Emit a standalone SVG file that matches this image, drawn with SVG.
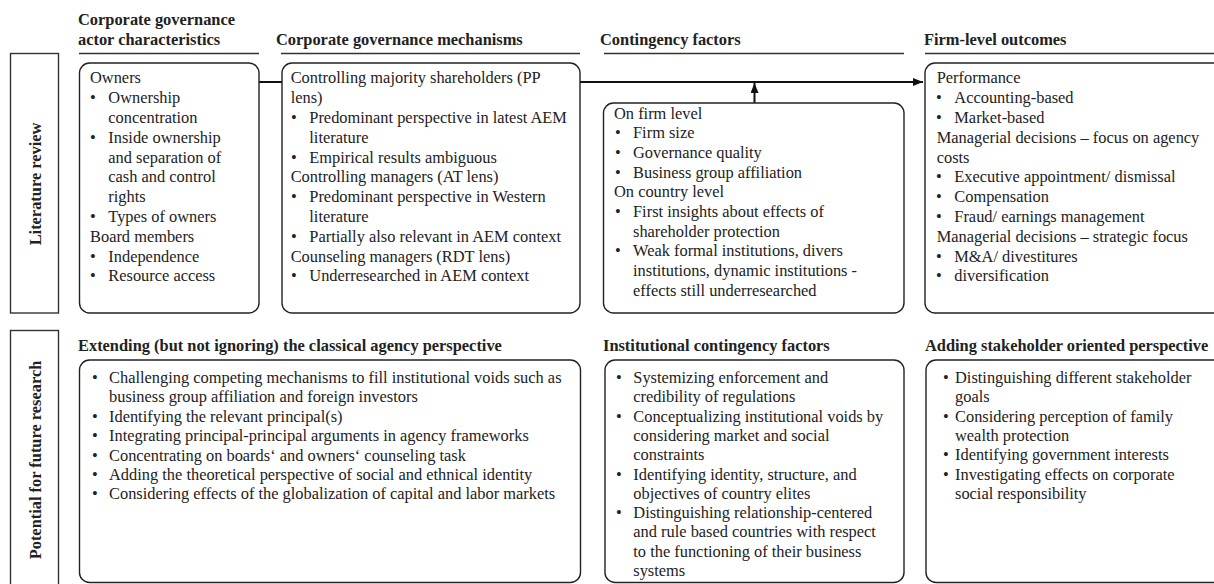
<svg xmlns="http://www.w3.org/2000/svg" width="1214" height="584" viewBox="0 0 1214 584">
<defs>
<style>
text{font-family:"Liberation Serif","Times New Roman",serif;fill:#222;font-size:16.4px}
.h{font-weight:bold}
.box{fill:none;stroke:#222;stroke-width:1.4}
.lbl{fill:none;stroke:#333;stroke-width:1.4}
.ul{stroke:#333;stroke-width:1.6}
.conn{stroke:#111;stroke-width:2;fill:none}
</style>
<marker id="ah" viewBox="0 0 10 8" refX="10" refY="4" markerWidth="5" markerHeight="4" orient="auto" markerUnits="strokeWidth">
<path d="M0,0 L10,4 L0,8 Z" fill="#111"/>
</marker>
</defs>
<rect width="1214" height="584" fill="#fff"/>

<g id="headers">
<text class="h" x="78" y="25">Corporate governance</text>
<text class="h" x="78" y="45">actor characteristics</text>
<text class="h" x="276" y="45">Corporate governance mechanisms</text>
<text class="h" x="600" y="45">Contingency factors</text>
<text class="h" x="924" y="45">Firm-level outcomes</text>
<line class="ul" x1="79" y1="53.5" x2="259" y2="53.5"/>
<line class="ul" x1="281" y1="53.5" x2="580" y2="53.5"/>
<line class="ul" x1="604" y1="53.5" x2="904" y2="53.5"/>
<line class="ul" x1="925" y1="53.5" x2="1214" y2="53.5"/>
<text class="h" x="78" y="351">Extending (but not ignoring) the classical agency perspective</text>
<text class="h" x="603" y="351">Institutional contingency factors</text>
<text class="h" x="925" y="351">Adding stakeholder oriented perspective</text>
</g>

<g id="label-literature">
<rect class="lbl" x="10.5" y="53.5" width="48" height="259.5"/>
<text class="h" transform="translate(41,184) rotate(-90)" text-anchor="middle">Literature review</text>
</g>
<g id="label-future">
<rect class="lbl" x="10.5" y="330.5" width="48" height="270"/>
<text class="h" transform="translate(41,460) rotate(-90)" text-anchor="middle">Potential for future research</text>
</g>

<g id="connectors">
<line class="conn" x1="259" y1="82" x2="282" y2="82"/>
<line class="conn" x1="580" y1="82" x2="923" y2="82" marker-end="url(#ah)"/>
<line class="conn" x1="754.5" y1="103" x2="754.5" y2="83" marker-end="url(#ah)"/>
</g>

<g id="node-actors">
<rect class="box" x="79.5" y="63" width="179.5" height="250" rx="10"/>
<text x="90" y="83.3">Owners</text>
<text x="90" y="103.1">•</text><text x="108.3" y="103.1">Ownership</text>
<text x="108.3" y="122.9">concentration</text>
<text x="90" y="142.7">•</text><text x="108.3" y="142.7">Inside ownership</text>
<text x="108.3" y="162.5">and separation of</text>
<text x="108.3" y="182.3">cash and control</text>
<text x="108.3" y="202.1">rights</text>
<text x="90" y="221.9">•</text><text x="108.3" y="221.9">Types of owners</text>
<text x="90" y="241.7">Board members</text>
<text x="90" y="261.5">•</text><text x="108.3" y="261.5">Independence</text>
<text x="90" y="281.3">•</text><text x="108.3" y="281.3">Resource access</text>
</g>

<g id="node-mechanisms">
<rect class="box" x="282" y="63" width="298" height="250" rx="10"/>
<text x="290.7" y="83.3">Controlling majority shareholders (PP</text>
<text x="290.7" y="103.1">lens)</text>
<text x="291" y="122.9">•</text><text x="309.3" y="122.9">Predominant perspective in latest AEM</text>
<text x="309.3" y="142.7">literature</text>
<text x="291" y="162.5">•</text><text x="309.3" y="162.5">Empirical results ambiguous</text>
<text x="290.7" y="182.3">Controlling managers (AT lens)</text>
<text x="291" y="202.1">•</text><text x="309.3" y="202.1">Predominant perspective in Western</text>
<text x="309.3" y="221.9">literature</text>
<text x="291" y="241.7">•</text><text x="309.3" y="241.7">Partially also relevant in AEM context</text>
<text x="290.7" y="261.5">Counseling managers (RDT lens)</text>
<text x="291" y="281.3">•</text><text x="309.3" y="281.3">Underresearched in AEM context</text>
</g>

<g id="node-contingency">
<rect class="box" x="603.5" y="103" width="300.5" height="210" rx="10"/>
<text x="614" y="118.5">On firm level</text>
<text x="615" y="138.2">•</text><text x="633" y="138.2">Firm size</text>
<text x="615" y="157.9">•</text><text x="633" y="157.9">Governance quality</text>
<text x="615" y="177.6">•</text><text x="633" y="177.6">Business group affiliation</text>
<text x="614" y="197.3">On country level</text>
<text x="615" y="217">•</text><text x="633" y="217">First insights about effects of</text>
<text x="633" y="236.7">shareholder protection</text>
<text x="615" y="256.4">•</text><text x="633" y="256.4">Weak formal institutions, divers</text>
<text x="633" y="276.1">institutions, dynamic institutions  -</text>
<text x="633" y="295.8">effects still underresearched</text>
</g>

<g id="node-outcomes">
<rect class="box" x="925" y="63" width="310" height="250" rx="10"/>
<text x="936.7" y="83.3">Performance</text>
<text x="936" y="103.1">•</text><text x="954.3" y="103.1">Accounting-based</text>
<text x="936" y="122.9">•</text><text x="954.3" y="122.9">Market-based</text>
<text x="936.7" y="142.7">Managerial decisions – focus on agency</text>
<text x="936.7" y="162.5">costs</text>
<text x="936" y="182.3">•</text><text x="954.3" y="182.3">Executive appointment/ dismissal</text>
<text x="936" y="202.1">•</text><text x="954.3" y="202.1">Compensation</text>
<text x="936" y="221.9">•</text><text x="954.3" y="221.9">Fraud/ earnings management</text>
<text x="936.7" y="241.7">Managerial decisions – strategic focus</text>
<text x="936" y="261.5">•</text><text x="954.3" y="261.5">M&amp;A/ divestitures</text>
<text x="936" y="281.3">•</text><text x="954.3" y="281.3">diversification</text>
</g>

<g id="node-agency">
<rect class="box" x="79.5" y="360" width="501" height="222.5" rx="10"/>
<text x="92" y="383">•</text><text x="109" y="383">Challenging competing mechanisms to fill institutional voids such as</text>
<text x="109" y="402.4">business group affiliation and foreign investors</text>
<text x="92" y="421.8">•</text><text x="109" y="421.8">Identifying the relevant principal(s)</text>
<text x="92" y="441.2">•</text><text x="109" y="441.2">Integrating principal-principal arguments in agency frameworks</text>
<text x="92" y="460.6">•</text><text x="109" y="460.6">Concentrating on boards‘ and owners‘ counseling task</text>
<text x="92" y="480">•</text><text x="109" y="480">Adding the theoretical perspective of social and ethnical identity</text>
<text x="92" y="499.4">•</text><text x="109" y="499.4">Considering effects of the globalization of capital and labor markets</text>
</g>

<g id="node-institutional">
<rect class="box" x="605" y="360" width="299" height="222.5" rx="10"/>
<text x="616" y="383">•</text><text x="633.3" y="383">Systemizing enforcement and</text>
<text x="633.3" y="402.3">credibility of regulations</text>
<text x="616" y="421.6">•</text><text x="633.3" y="421.6">Conceptualizing institutional voids by</text>
<text x="633.3" y="440.9">considering market and social</text>
<text x="633.3" y="460.2">constraints</text>
<text x="616" y="479.5">•</text><text x="633.3" y="479.5">Identifying identity, structure, and</text>
<text x="633.3" y="498.8">objectives of country elites</text>
<text x="616" y="518.1">•</text><text x="633.3" y="518.1">Distinguishing relationship-centered</text>
<text x="633.3" y="537.4">and rule based countries with respect</text>
<text x="633.3" y="556.7">to the functioning of their business</text>
<text x="633.3" y="576">systems</text>
</g>

<g id="node-stakeholder">
<rect class="box" x="926" y="360" width="310" height="222.5" rx="10"/>
<text x="943" y="383">•</text><text x="955" y="383">Distinguishing different stakeholder</text>
<text x="955" y="402.3">goals</text>
<text x="943" y="421.6">•</text><text x="955" y="421.6">Considering perception of family</text>
<text x="955" y="440.9">wealth protection</text>
<text x="943" y="460.2">•</text><text x="955" y="460.2">Identifying government interests</text>
<text x="943" y="479.5">•</text><text x="955" y="479.5">Investigating effects on corporate</text>
<text x="955" y="498.8">social responsibility</text>
</g>
</svg>
